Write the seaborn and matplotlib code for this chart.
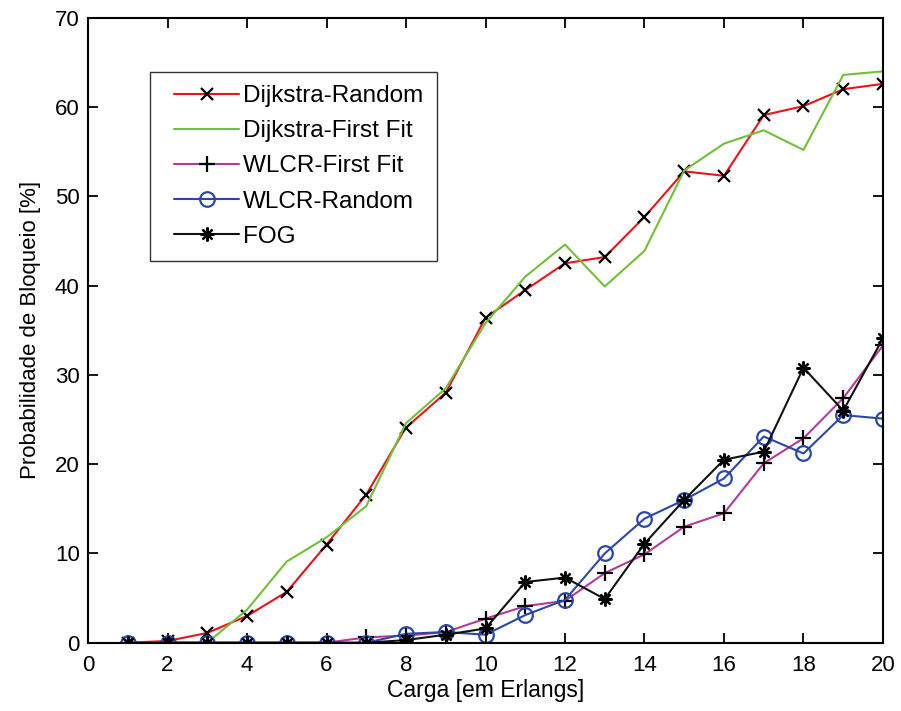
import matplotlib
matplotlib.use("Agg")
import matplotlib.pyplot as plt
from matplotlib.legend_handler import HandlerLine2D
from matplotlib.lines import Line2D
import seaborn as sns
import pandas as pd

sns.set_theme(style="white")
plt.rcParams["font.family"] = ["Liberation Sans", "DejaVu Sans"]
plt.rcParams["text.color"] = "black"
plt.rcParams["axes.labelcolor"] = "black"

carga = list(range(1, 21))
dijkstra_random = [0.0, 0.2, 1.1, 3.0, 5.7, 11.0, 16.6, 24.1, 28.0, 36.4,
                   39.5, 42.5, 43.2, 47.7, 52.8, 52.3, 59.1, 60.1, 62.0, 62.6]
dijkstra_ff = [0.0, 0.0, 0.0, 3.7, 9.1, 11.8, 15.3, 24.6, 28.5, 35.8,
               41.0, 44.6, 39.9, 43.9, 52.9, 55.9, 57.4, 55.2, 63.6, 64.0]
wlcr_ff = [0.0, 0.0, 0.0, 0.0, 0.0, 0.0, 0.6, 0.8, 1.2, 2.7,
           4.1, 4.7, 7.8, 9.9, 13.0, 14.5, 20.1, 22.9, 27.4, 33.3]
wlcr_random = [0.0, 0.0, 0.0, 0.0, 0.0, 0.0, 0.0, 1.0, 1.2, 0.9,
               3.1, 4.8, 10.0, 13.9, 16.0, 18.4, 23.1, 21.2, 25.5, 25.1]
fog = [0.0, 0.0, 0.0, 0.0, 0.0, 0.0, 0.0, 0.3, 0.9, 1.6,
       6.8, 7.3, 4.9, 11.1, 16.0, 20.5, 21.4, 30.8, 26.0, 34.1]

# asterisk made of eight spokes (a "+" over an "x")
asterisk = (8, 2, 0)

series = [
    ("Dijkstra-Random", dijkstra_random, "#e8141c", "x", 8.5, "black", "black"),
    ("Dijkstra-First Fit", dijkstra_ff, "#72bf3a", None, 0, None, None),
    ("WLCR-First Fit", wlcr_ff, "#b23c96", "+", 11, "black", "black"),
    ("WLCR-Random", wlcr_random, "#2b48a8", "o", 10.5, "#2b48a8", "none"),
    ("FOG", fog, "#111111", asterisk, 10, "black", "black"),
]

fig = plt.figure(figsize=(9.01, 7.11), dpi=100)
ax = fig.add_axes([0.0977, 0.096, 0.8823, 0.879])

for name, vals, color, marker, msize, mec, mfc in series:
    df = pd.DataFrame({"Carga": carga, "Bloqueio": vals})
    kw = dict(color=color, linewidth=1.5, label=name)
    if marker is not None:
        kw.update(marker=marker, markersize=msize,
                  markeredgecolor=mec, markerfacecolor=mfc,
                  markeredgewidth=1.6)
    sns.lineplot(data=df, x="Carga", y="Bloqueio", ax=ax, **kw)

ax.set_xlim(0, 20)
ax.set_ylim(0, 70)
ax.set_xticks(range(0, 21, 2))
ax.set_yticks(range(0, 71, 10))
ax.set_xlabel("Carga [em Erlangs]", fontsize=16.5, labelpad=2)
ax.set_ylabel("Probabilidade de Bloqueio [%]", fontsize=16, labelpad=10)
ax.tick_params(axis="both", which="both", direction="in", length=7,
               width=1.3, labelsize=16, top=True, right=True,
               bottom=True, left=True, colors="black")
ax.tick_params(axis="x", pad=9)
ax.tick_params(axis="y", pad=6)
for sp in ax.spines.values():
    sp.set_color("black")
    sp.set_linewidth(1.5)

leg = ax.legend(loc="upper left", bbox_to_anchor=(0.078, 0.914),
                fontsize=17.5, frameon=True, fancybox=False, numpoints=1,
                handlelength=3.1, labelspacing=0.54, borderpad=0.56,
                handletextpad=0.16, borderaxespad=0.0,
                handler_map={Line2D: HandlerLine2D(xpad=0.43)})
leg.get_frame().set_edgecolor("black")
leg.get_frame().set_linewidth(1.0)
for txt in leg.get_texts():
    txt.set_color("black")

fig.savefig("out.png", dpi=100)
